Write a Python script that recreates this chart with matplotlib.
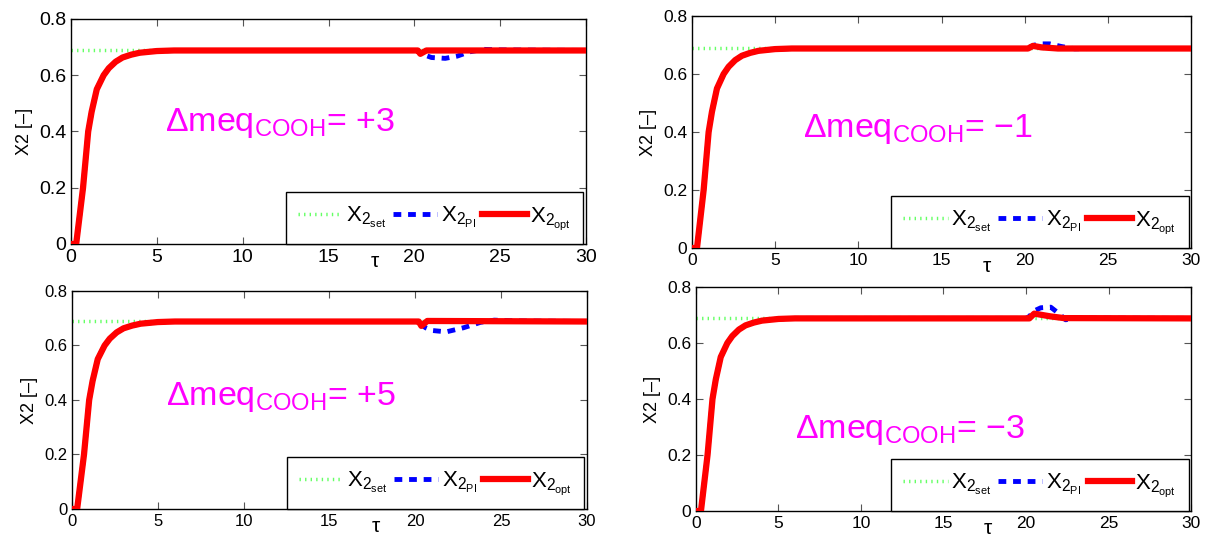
import numpy as np
import matplotlib
matplotlib.use('Agg')
import matplotlib.pyplot as plt

plt.rcParams['font.family'] = ['Liberation Sans', 'DejaVu Sans']
plt.rcParams['mathtext.fontset'] = 'custom'
plt.rcParams['mathtext.rm'] = 'Liberation Sans'
plt.rcParams['mathtext.it'] = 'Liberation Sans:italic'
plt.rcParams['mathtext.bf'] = 'Liberation Sans:bold'

##############################################################################
# Data (tau = dimensionless time, X2 = conversion)

# start-up response, common to the four runs
tau_rise = [0.0, 0.3, 0.5, 0.7, 0.85, 1.0, 1.2, 1.5, 1.9, 2.2, 2.6, 3.0, 3.5, 4.0, 5.0, 6.0, 20.0]
x2_rise = [0.0, 0.0, 0.1, 0.2, 0.3, 0.4, 0.47, 0.55, 0.6, 0.625, 0.648, 0.663, 0.673, 0.68, 0.686, 0.688, 0.688]

x2_set = 0.69
tau_set = [0.0, 30.0]

# disturbance at tau = 20, one entry per panel
panel_labels = ['+3', '\u22121', '+5', '\u22123']

tau_pi = [
    [20.2, 20.5, 21.0, 21.8, 22.5, 23.2, 24.0, 25.0, 30.0],
    [20.2, 20.6, 21.0, 21.5, 22.2, 23.0, 24.0, 30.0],
    [20.2, 20.6, 21.0, 21.8, 22.8, 23.8, 24.6, 26.0, 30.0],
    [20.2, 20.5, 20.9, 21.5, 22.0, 22.4, 23.0, 30.0],
]
x2_pi = [
    [0.688, 0.674, 0.663, 0.660, 0.668, 0.683, 0.692, 0.690, 0.688],
    [0.690, 0.700, 0.704, 0.704, 0.695, 0.687, 0.688, 0.688],
    [0.684, 0.665, 0.655, 0.650, 0.665, 0.685, 0.693, 0.690, 0.688],
    [0.695, 0.715, 0.726, 0.728, 0.705, 0.683, 0.689, 0.688],
]

tau_opt = [
    [20.2, 20.35, 20.7, 30.0],
    [20.2, 20.5, 21.0, 22.0, 30.0],
    [20.2, 20.35, 20.7, 30.0],
    [20.2, 20.5, 20.9, 21.5, 22.3, 30.0],
]
x2_opt = [
    [0.688, 0.676, 0.688, 0.688],
    [0.688, 0.697, 0.692, 0.688, 0.688],
    [0.688, 0.672, 0.690, 0.688],
    [0.688, 0.705, 0.701, 0.695, 0.689, 0.688],
]

yticks = [0, 0.2, 0.4, 0.6, 0.8]
ytick_labels = ['0', '0.2', '0.4', '0.6', '0.8']
xticks = [0, 5, 10, 15, 20, 25, 30]

##############################################################################
# Layout (figure fractions) and per-panel text placement

axes_rect = [
    [0.0587, 0.5448, 0.4256, 0.4198],
    [0.5719, 0.5373, 0.4124, 0.4328],
    [0.0595, 0.0504, 0.4256, 0.4067],
    [0.5752, 0.0466, 0.4091, 0.4179],
]
tick_size = [14, 12.5, 12, 12.5]
label_pos = [(5.5, 0.43), (6.7, 0.41), (5.5, 0.41), (6.0, 0.29)]

fig = plt.figure(figsize=(12.1, 5.36), dpi=100)

for i in range(4):
    ax = fig.add_axes(axes_rect[i])
    t_all_pi = tau_rise + tau_pi[i]
    x_all_pi = x2_rise + x2_pi[i]
    t_all_opt = tau_rise + tau_opt[i]
    x_all_opt = x2_rise + x2_opt[i]

    ax.plot(tau_set, [x2_set, x2_set], color='#66ff66', lw=2.5,
            linestyle=(0, (0.4, 1.2)), label=r'X$_{2_{\mathrm{set}}}$', zorder=1)
    ax.plot(t_all_pi, x_all_pi, color='#0000ff', lw=3.5,
            linestyle=(0, (1.6, 1.4)), label=r'X$_{2_{\mathrm{PI}}}$', zorder=2)
    ax.plot(t_all_opt, x_all_opt, color='#ff0000', lw=4.5,
            solid_joinstyle='round', label=r'X$_{2_{\mathrm{opt}}}$', zorder=3)

    ax.set_xlim(0, 30)
    ax.set_ylim(0, 0.8)
    ax.set_xticks(xticks)
    ax.set_yticks(yticks)
    ax.set_yticklabels(ytick_labels)
    ax.tick_params(direction='in', top=True, right=True, length=5,
                   labelsize=tick_size[i], color='#555555')
    for sp in ax.spines.values():
        sp.set_linewidth(1.0)

    ax.set_ylabel('X2 [\u2013]', fontsize=13, labelpad=4)
    ax.text(17.7, -0.03, '\u03c4', fontsize=15, ha='center', va='top')

    lx, ly = label_pos[i]
    ax.text(lx, ly, r'$\Delta\mathrm{meq}_{\mathrm{COOH}}$= ' + panel_labels[i],
            fontsize=24.5, color='#ff00ff', va='center', ha='left')

    leg = ax.legend(loc='lower right', bbox_to_anchor=(0.995, 0.0), ncol=3,
                    fontsize=16, frameon=True, fancybox=False, framealpha=1,
                    edgecolor='black', handlelength=2.0, handletextpad=0.15,
                    columnspacing=0.3, borderpad=0.55, borderaxespad=0.0)
    leg.get_frame().set_linewidth(1.0)

plt.savefig('out.png', dpi=100)
